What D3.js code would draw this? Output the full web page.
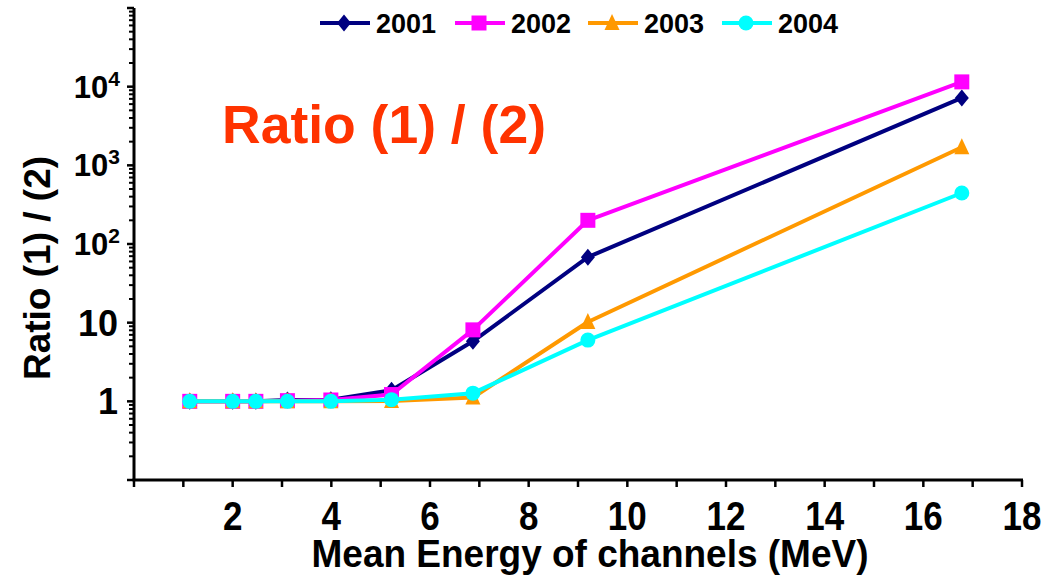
<!DOCTYPE html>
<html>
<head>
<meta charset="utf-8">
<script src="https://cdn.jsdelivr.net/npm/d3@7"></script>
<style>
  html, body { margin: 0; padding: 0; background: #fff; }
  svg { display: block; font-family: "Liberation Sans", Arial, sans-serif; font-weight: bold; }
</style>
</head>
<body>
<svg id="chart" width="1053" height="578"></svg>
<script>
// Mean energy of each channel (MeV)
const energies = [1.13, 2.0, 2.47, 3.11, 3.99, 5.22, 6.87, 9.2, 16.78];

// Ratio (1)/(2) per year
const years = ["2001", "2002", "2003", "2004"];
const ratio2001 = [1.0, 1.0, 1.0, 1.04, 1.05, 1.38, 5.8, 68, 7200];
const ratio2002 = [1.0, 1.0, 1.0, 1.02, 1.04, 1.22, 8.1, 200, 11500];
const ratio2003 = [1.0, 1.0, 1.0, 1.0, 1.0, 1.01, 1.12, 10.2, 1700];
const ratio2004 = [1.0, 1.0, 1.0, 1.0, 1.0, 1.05, 1.27, 6.0, 445];

// Axis ticks and labels
const xTickValues = d3.range(0, 19);
const xTickLabels = ["", "", "2", "", "4", "", "6", "", "8", "", "10", "", "12", "", "14", "", "16", "", "18"];
const yTickValues = [1, 10, 100, 1000, 10000];
const yTickBase = ["1", "10", "10", "10", "10"];
const yTickExp = ["", "", "2", "3", "4"];

const colors = ["#000080", "#ff00ff", "#ff9900", "#00ffff"];
const markers = ["diamond", "square", "triangle", "circle"];
const seriesValues = [ratio2001, ratio2002, ratio2003, ratio2004];

const svg = d3.select("#chart");

const x = d3.scaleLinear().domain([0, 18]).range([134, 1022]);
const y = d3.scaleLog().domain([0.1, 1e5]).range([480, 8]);

function markerPath(kind) {
  switch (kind) {
    case "diamond": return "M0,-8.5L7,0L0,8.5L-7,0Z";
    case "square": return "M-7.5,-7.5H7.5V7.5H-7.5Z";
    case "triangle": return "M0,-9L7.5,7H-7.5Z";
    default: return d3.symbol(d3.symbolCircle, Math.PI * 7.5 * 7.5)();
  }
}

// Y axis: line, major and minor log ticks
const yAxisG = svg.append("g");
yAxisG.append("line")
  .attr("x1", x(0)).attr("x2", x(0))
  .attr("y1", y(1e5)).attr("y2", y(0.1))
  .attr("stroke", "#000").attr("stroke-width", 3);

const minorY = [];
for (let e = -1; e < 5; e++) {
  for (let m = 2; m <= 9; m++) minorY.push(m * Math.pow(10, e));
}
const majorY = [0.1, 1, 10, 100, 1000, 10000, 100000];
yAxisG.selectAll("line.minor").data(minorY).join("line")
  .attr("class", "minor")
  .attr("x1", x(0) - 5).attr("x2", x(0))
  .attr("y1", d => y(d)).attr("y2", d => y(d))
  .attr("stroke", "#000").attr("stroke-width", 2);
yAxisG.selectAll("line.major").data(majorY).join("line")
  .attr("class", "major")
  .attr("x1", x(0) - 7).attr("x2", x(0))
  .attr("y1", d => y(d)).attr("y2", d => y(d))
  .attr("stroke", "#000").attr("stroke-width", 2.5);

const yLabels = yAxisG.selectAll("text.ylab").data(yTickValues).join("text")
  .attr("class", "ylab")
  .attr("text-anchor", "end")
  .attr("fill", "#000");
yLabels.each(function (d, i) {
  const t = d3.select(this);
  if (yTickExp[i]) {
    t.attr("x", 120).attr("y", y(d) + 11);
    t.append("tspan").attr("font-size", 31).text(yTickBase[i]);
    t.append("tspan").attr("font-size", 21).attr("dy", -12).text(yTickExp[i]);
  } else {
    t.attr("x", 118).attr("y", y(d) + 13).attr("font-size", 36).text(yTickBase[i]);
  }
});

// X axis
const xAxisG = svg.append("g");
xAxisG.append("line")
  .attr("x1", x(0) - 1.5).attr("x2", x(18) + 1)
  .attr("y1", 480).attr("y2", 480)
  .attr("stroke", "#000").attr("stroke-width", 3);
xAxisG.selectAll("line.xt").data(xTickValues).join("line")
  .attr("class", "xt")
  .attr("x1", d => x(d)).attr("x2", d => x(d))
  .attr("y1", 480).attr("y2", 487)
  .attr("stroke", "#000").attr("stroke-width", 2.5);
// tick labels drawn slightly tall and narrow
xAxisG.selectAll("text.xlab").data(xTickValues).join("text")
  .attr("class", "xlab")
  .attr("transform", d => `translate(${x(d)},530) scale(1,1.15)`)
  .attr("text-anchor", "middle")
  .attr("font-size", 35)
  .attr("fill", "#000")
  .text((d, i) => xTickLabels[i]);

// Axis titles
svg.append("text")
  .attr("transform", "translate(590,567) scale(1,1.07)")
  .attr("text-anchor", "middle")
  .attr("font-size", 37)
  .text("Mean Energy of channels (MeV)");

svg.append("text")
  .attr("transform", "translate(50,268) rotate(-90)")
  .attr("text-anchor", "middle")
  .attr("font-size", 37)
  .text("Ratio (1) / (2)");

// In-plot annotation
svg.append("text")
  .attr("x", 222).attr("y", 143)
  .attr("font-size", 53.5)
  .attr("fill", "#ff3300")
  .text("Ratio (1) / (2)");

// Series lines and markers
const line = d3.line().x((d, i) => x(energies[i])).y(d => y(d));
seriesValues.forEach((vals, s) => {
  const g = svg.append("g");
  g.append("path")
    .attr("d", line(vals))
    .attr("fill", "none")
    .attr("stroke", colors[s])
    .attr("stroke-width", 4)
    .attr("stroke-linejoin", "round");
  g.selectAll("path.mk").data(vals).join("path")
    .attr("class", "mk")
    .attr("d", markerPath(markers[s]))
    .attr("transform", (d, i) => `translate(${x(energies[i])},${y(d)})`)
    .attr("fill", colors[s]);
});

// Legend
const legendX = [320, 455, 588, 722];
const legend = svg.append("g");
years.forEach((yr, s) => {
  const g = legend.append("g").attr("transform", `translate(${legendX[s]},23)`);
  g.append("line").attr("x1", 0).attr("x2", 50).attr("y1", 0).attr("y2", 0)
    .attr("stroke", colors[s]).attr("stroke-width", 4);
  g.append("path").attr("d", markerPath(markers[s]))
    .attr("transform", "translate(24,0)").attr("fill", colors[s]);
  g.append("text").attr("x", 56).attr("y", 10).attr("font-size", 27).text(yr);
});
</script>
</body>
</html>
